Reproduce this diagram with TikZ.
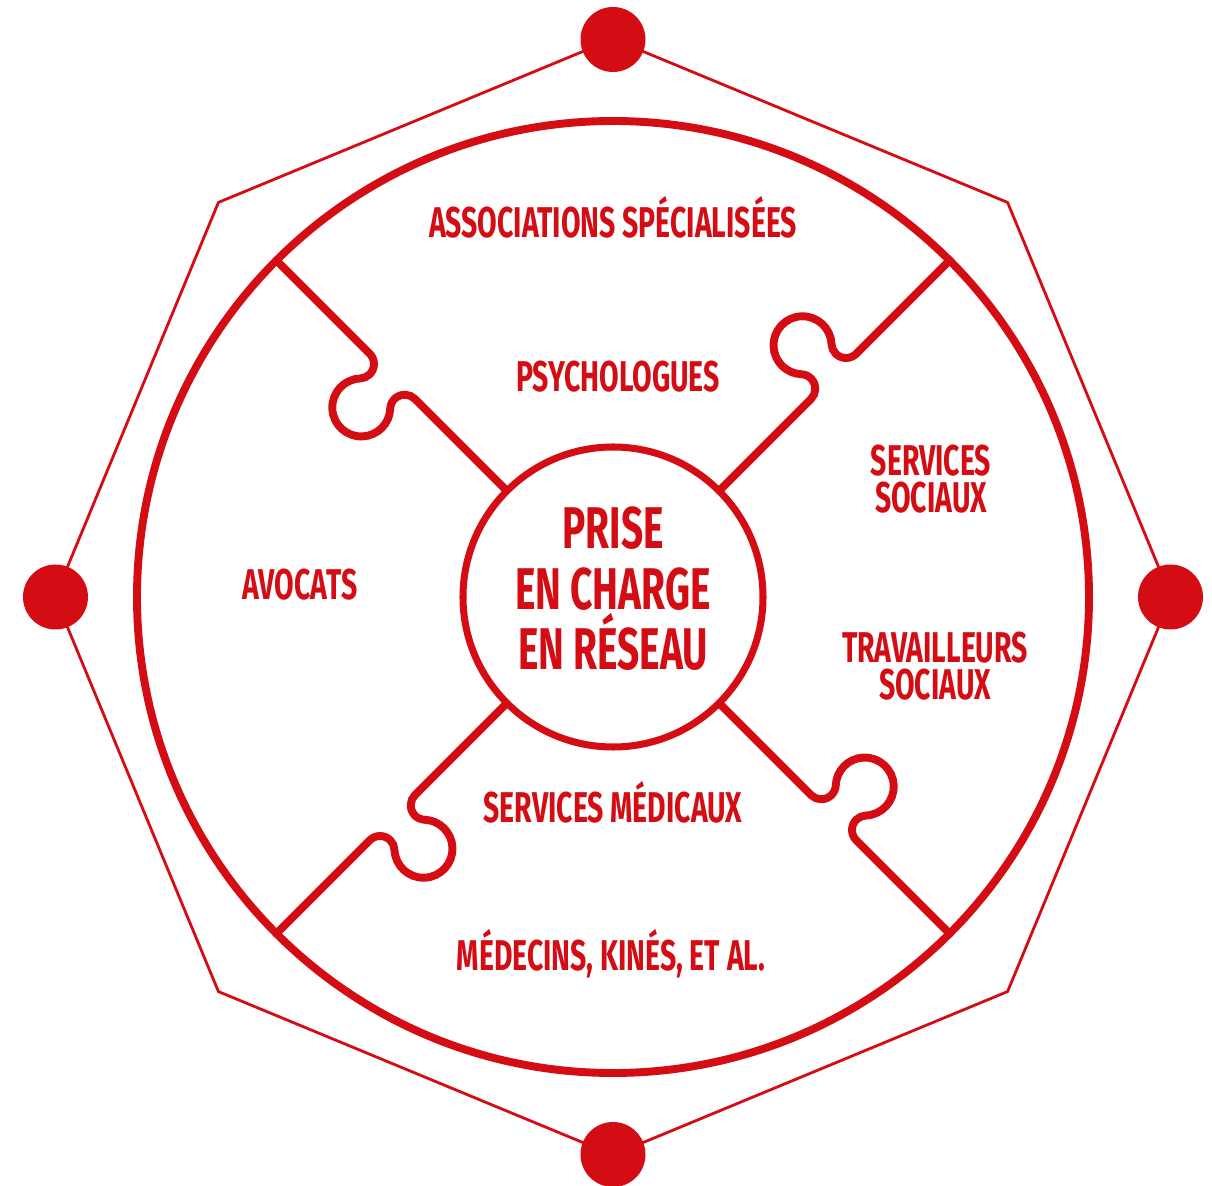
\documentclass[tikz,border=0pt]{standalone}
\usepackage{fontspec}
\newfontfamily\tagfont{Fira Sans}[FakeStretch=0.66]
\usepackage{tikz}
\definecolor{reseauRed}{RGB}{212, 13, 21}
\tikzset{
	tag/.style={text=reseauRed, font=\tagfont\bfseries\fontsize{24.5}{21.5}\selectfont, align=center, inner sep=0pt, anchor=base},
	hubtag/.style={tag, font=\tagfont\bfseries\fontsize{33.5}{34.5}\selectfont},
	piece/.style={draw=reseauRed, line width=4.5pt},
}

\begin{document}
\begin{tikzpicture}[x=0.02cm, y=0.02cm]
	\useasboundingbox (-613, -588) rectangle (599, 597);
	\coordinate (O) at (0, 0);

	% octagon with the four dots
	\draw[reseauRed, line width=1.6pt] (0:558) \foreach \a in {45, 90, ..., 315} { -- (\a:558) } -- cycle;
	\foreach \a in {0, 90, 180, 270}
		\fill[reseauRed] (\a:557.5) circle (32.5);

	% puzzle: rim, hub and the four tabbed spokes
	\draw[piece] (O) circle (476);
	\draw[piece, line width=4pt] (O) circle (150);
	\foreach \r in {45, 135, 225, 315}
		\draw[piece, rotate=\r] (476, 0) -- (344, 0)
			arc[start angle=270, end angle=137.33, radius=14.5]
			arc[start angle=-42.67, end angle=222.67, radius=29]
			arc[start angle=42.67, end angle=-90, radius=14.5] -- (150, 0);

	% multi-line tags sit on the baseline of their last line
	\node[hubtag] (hub) at (0, -73) {PRISE\\EN CHARGE\\EN RÉSEAU};
	\node[tag] (assoc) at (0, 359) {ASSOCIATIONS SPÉCIALISÉES};
	\node[tag] (psy) at (5, 205) {PSYCHOLOGUES};
	\node[tag] (social) at (318, 84) {SERVICES\\SOCIAUX};
	\node[tag] (workers) at (322, -103) {TRAVAILLEURS\\SOCIAUX};
	\node[tag] (lawyers) at (-313, -3) {AVOCATS};
	\node[tag] (medical) at (0, -225) {SERVICES MÉDICAUX};
	\node[tag] (doctors) at (-2, -373) {MÉDECINS, KINÉS, ET AL.};
\end{tikzpicture}
\end{document}
